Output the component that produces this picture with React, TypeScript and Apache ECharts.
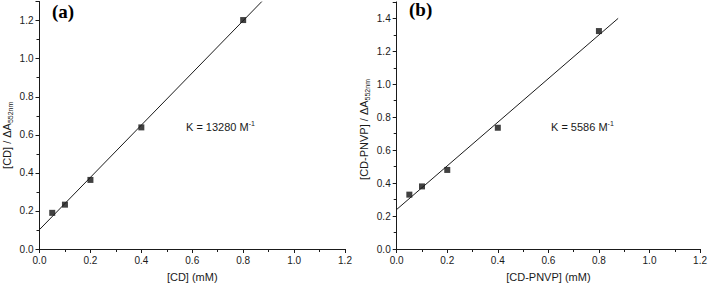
import React, { useEffect, useRef } from "react";
import * as echarts from "echarts";

const xA = [0.05, 0.1, 0.2, 0.4, 0.8];
const yA = [0.19, 0.233, 0.363, 0.639, 1.203];
const fitA = [[0, 0.102], [0.873, 1.3]];
const xB = [0.05, 0.1, 0.2, 0.4, 0.8];
const yB = [0.33, 0.38, 0.48, 0.736, 1.323];
const fitB = [[0, 0.24], [0.876, 1.4]];
const xTitleA = "[CD] (mM)";
const yTitleA = "[CD] / ΔA";
const xTitleB = "[CD-PNVP] (mM)";
const yTitleB = "[CD-PNVP] / ΔA";
const subText = "552nm";
const kA = "K = 13280 M";
const kB = "K = 5586 M";
const supText = "-1";
const panelA = "(a)";
const panelB = "(b)";

const FONT = "Liberation Sans, Arial, sans-serif";
const INK = "#1a1a1a";

function xAxisCfg(idx: number, name: string) {
  return {
    type: "value",
    gridIndex: idx,
    min: 0,
    max: 1.2,
    interval: 0.2,
    name,
    nameLocation: "middle",
    nameGap: 22,
    nameTextStyle: { fontFamily: FONT, fontSize: 11, color: INK },
    axisLine: { show: true, onZero: false, lineStyle: { color: INK, width: 1 } },
    axisTick: { show: true, length: 4, lineStyle: { color: INK } },
    minorTick: { show: true, splitNumber: 2, length: 3, lineStyle: { color: INK } },
    axisLabel: {
      fontFamily: FONT,
      fontSize: 10,
      color: INK,
      margin: 6,
      formatter: (v: number) => v.toFixed(1),
    },
    splitLine: { show: false },
  };
}

function yAxisCfg(idx: number, max: number, title: string, pad: number, gap: number) {
  return {
    type: "value",
    gridIndex: idx,
    min: 0,
    max,
    interval: 0.2,
    name: `{n|${title}}{s|${subText}}`,
    nameLocation: "middle",
    nameRotate: 90,
    nameGap: gap,
    nameTextStyle: {
      fontFamily: FONT,
      fontSize: 11,
      color: INK,
      padding: [0, pad, 0, 0],
      rich: {
        n: { fontFamily: FONT, fontSize: 11, color: INK, lineHeight: 14, verticalAlign: "middle" },
        s: { fontFamily: FONT, fontSize: 7, color: INK, lineHeight: 7, verticalAlign: "bottom" },
      },
    },
    axisLine: { show: true, onZero: false, lineStyle: { color: INK, width: 1 } },
    axisTick: { show: true, length: 4, lineStyle: { color: INK } },
    minorTick: { show: true, splitNumber: 2, length: 3, lineStyle: { color: INK } },
    axisLabel: {
      fontFamily: FONT,
      fontSize: 10,
      color: INK,
      margin: 6,
      showMaxLabel: false,
      formatter: (v: number) => v.toFixed(1),
    },
    splitLine: { show: false },
  };
}

function kText(left: number, top: number, main: string) {
  return {
    type: "text",
    left,
    top,
    style: {
      text: `{n|${main}}{s|${supText}}`,
      rich: {
        n: { fontFamily: FONT, fontSize: 11, fill: INK, lineHeight: 14, verticalAlign: "middle" },
        s: { fontFamily: FONT, fontSize: 7, fill: INK, lineHeight: 7, verticalAlign: "top" },
      },
    },
  };
}

export default function App() {
  const ref = useRef<HTMLDivElement>(null);
  useEffect(() => {
    document.body.style.margin = "0";
    const chart = echarts.init(ref.current!, null, { renderer: "svg" });
    chart.setOption({
      animation: false,
      backgroundColor: "#ffffff",
      grid: [
        { left: 39.3, top: 1.6, width: 305.7, height: 247.9 },
        { left: 396.7, top: 1.9, width: 306, height: 247.6 },
      ],
      xAxis: [xAxisCfg(0, xTitleA), xAxisCfg(1, xTitleB)],
      yAxis: [yAxisCfg(0, 1.3, yTitleA, 20, 26), yAxisCfg(1, 1.5, yTitleB, 8, 26)],
      series: [
        {
          type: "line",
          xAxisIndex: 0,
          yAxisIndex: 0,
          data: fitA,
          showSymbol: false,
          lineStyle: { color: INK, width: 1 },
          silent: true,
        },
        {
          type: "scatter",
          xAxisIndex: 0,
          yAxisIndex: 0,
          data: xA.map((x, i) => [x, yA[i]]),
          symbol: "rect",
          symbolSize: 6,
          itemStyle: { color: "#111" },
        },
        {
          type: "line",
          xAxisIndex: 1,
          yAxisIndex: 1,
          data: fitB,
          showSymbol: false,
          lineStyle: { color: INK, width: 1 },
          silent: true,
        },
        {
          type: "scatter",
          xAxisIndex: 1,
          yAxisIndex: 1,
          data: xB.map((x, i) => [x, yB[i]]),
          symbol: "rect",
          symbolSize: 6,
          itemStyle: { color: "#111" },
        },
      ],
      graphic: [
        kText(186, 120, kA),
        kText(551, 120, kB),
        {
          type: "text",
          left: 52,
          top: 2,
          style: { text: panelA, fontFamily: "Liberation Serif, Times New Roman, serif", fontWeight: "bold", fontSize: 19, fill: "#000" },
        },
        {
          type: "text",
          left: 409,
          top: 0,
          style: { text: panelB, fontFamily: "Liberation Serif, Times New Roman, serif", fontWeight: "bold", fontSize: 19, fill: "#000" },
        },
      ],
    });
    return () => chart.dispose();
  }, []);
  return <div ref={ref} style={{ width: 710, height: 287, position: "absolute", left: 0, top: 0 }} />;
}
